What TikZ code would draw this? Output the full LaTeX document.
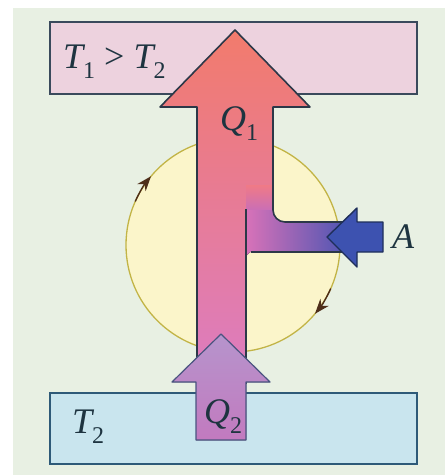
\documentclass[tikz,border=0pt]{standalone}
\usepackage{fontspec}
\setmainfont{Liberation Serif}
\usetikzlibrary{arrows.meta}
\definecolor{bgc}{HTML}{E8F0E3}
\definecolor{hotfill}{HTML}{EDD2DE}
\definecolor{hotedge}{HTML}{3A4A5C}
\definecolor{coldfill}{HTML}{C9E5EE}
\definecolor{coldedge}{HTML}{2E5A78}
\definecolor{circfill}{HTML}{FBF5CA}
\definecolor{circedge}{HTML}{C2B446}
\definecolor{markc}{HTML}{4E2E1A}
\definecolor{shaftedge}{HTML}{2C3848}
\definecolor{redtop}{HTML}{F27B6C}
\definecolor{redmid}{HTML}{F17A84}
\definecolor{pinkbot}{HTML}{DC7CC2}
\definecolor{bandl}{HTML}{D872B8}
\definecolor{bandr}{HTML}{3F52B2}
\definecolor{patchtop}{HTML}{F07A86}
\definecolor{patchbot}{HTML}{C86EB8}
\definecolor{bluefill}{HTML}{3D52B0}
\definecolor{blueedge}{HTML}{1F2F5A}
\definecolor{qtwotop}{HTML}{B694CC}
\definecolor{qtwobot}{HTML}{C27ABF}
\definecolor{qtwoedge}{HTML}{4A5480}
\definecolor{txt}{HTML}{1E3440}
\newcommand{\lowidx}[1]{\raisebox{-0.28em}{\fontsize{24}{26}\selectfont\upshape #1}}
\tikzset{
  lbl/.style={text=txt, inner sep=0pt, anchor=base west, font=\fontsize{36}{40}\selectfont\itshape},
  boxstyle/.style={line width=1.8pt},
  outl/.style={draw=shaftedge, line width=1.6pt, line join=round},
  circmark/.style={draw=markc, line width=1.4pt, -{Stealth[length=15pt,width=11pt]}},
}
\begin{document}
\begin{tikzpicture}[x=1pt,y=-1pt]
\useasboundingbox (0,0) rectangle (445,475);
\fill[white] (0,0) rectangle (445,475);
\fill[bgc] (13,8) rectangle (445,475);
% reservoirs
\filldraw[boxstyle, fill=hotfill, draw=hotedge] (50,22) rectangle (417,94);
\filldraw[boxstyle, fill=coldfill, draw=coldedge] (50,393) rectangle (417,464);
% cycle
\coordinate (cc) at (233,245);
\filldraw[fill=circfill, draw=circedge, line width=1.3pt] (cc) circle[radius=107];
\draw[circmark] (cc) ++(204:107) arc[start angle=204, end angle=220, radius=107];
\draw[circmark] (cc) ++(24:107) arc[start angle=24, end angle=40, radius=107];
% main shaft Q1
\fill[top color=redtop, middle color=redmid, bottom color=pinkbot]
  (197,384) -- (197,107) -- (160,107) -- (235,30) -- (310,107) -- (273,107)
  -- (273,212) -- (246,212) -- (246,384) -- cycle;
% transition patch into the work band
\fill[top color=patchtop, bottom color=patchbot] (246,185) rectangle (273,211);
% work band
\fill[left color=bandl, right color=bandr]
  (246,210) -- (273,210) [rounded corners=12pt] -- (273,222) -- (357,222) [sharp corners] -- (357,252)
  -- (250,252) -- (246,256) -- cycle;
% outlines
\draw[outl] (197,384) -- (197,107) -- (160,107) -- (235,30) -- (310,107) -- (273,107)
  [rounded corners=12pt] -- (273,222) -- (357,222);
\draw[outl] (357,252) -- (251,252);
\draw[outl] (246,209) -- (246,384);
% blue arrow A
\filldraw[fill=bluefill, draw=blueedge, line width=1.4pt, line join=round]
  (383,222) -- (357,222) -- (357,208) -- (327,237) -- (357,267) -- (357,252)
  -- (383,252) -- cycle;
% Q2 arrow
\filldraw[top color=qtwotop, bottom color=qtwobot, draw=qtwoedge, line width=1.2pt, line join=round]
  (196,440) -- (196,382) -- (172,382) -- (221,334) -- (270,382) -- (246,382)
  -- (246,440) -- cycle;
% labels
\node[lbl] (thot) at (63,68) {T\lowidx{1} \upshape{>} \itshape T\lowidx{2}};
\node[lbl] (qone) at (220,130) {Q\lowidx{1}};
\node[lbl] (tcold) at (72,433) {T\lowidx{2}};
\node[lbl] (qtwo) at (204,423) {Q\lowidx{2}};
\node[lbl] (work) at (392,248) {A};
\end{tikzpicture}
\end{document}
